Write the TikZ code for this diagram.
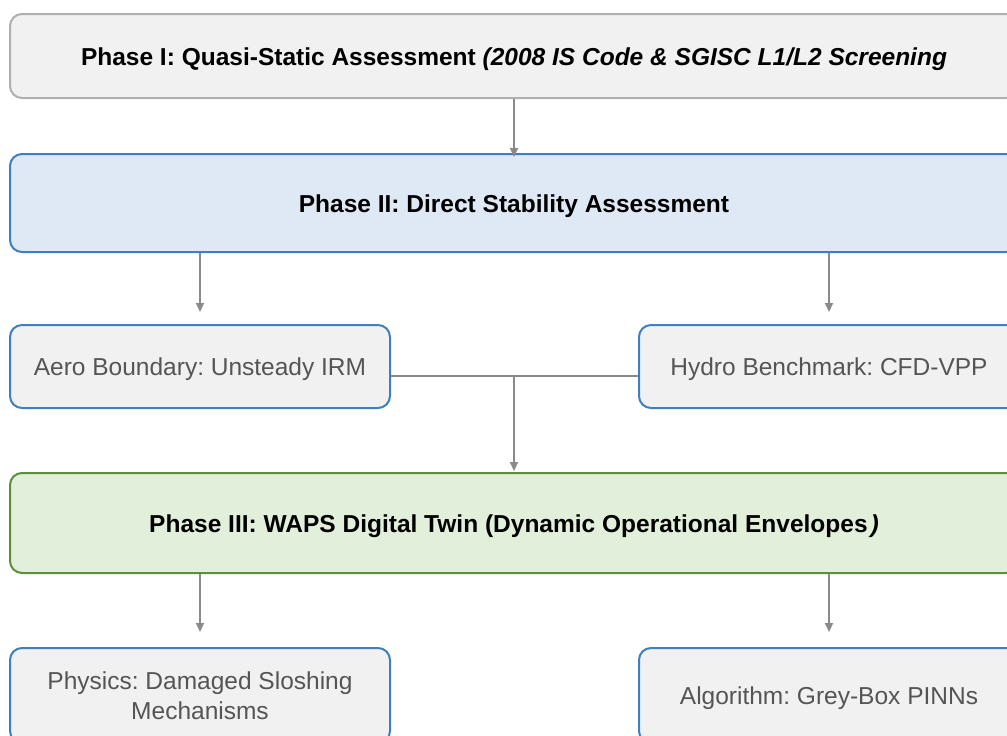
\documentclass[tikz,border=0pt]{standalone}
\usepackage{fontspec}
\setmainfont{Liberation Sans}
\usetikzlibrary{arrows.meta}
\frenchspacing
\definecolor{grayfill}{HTML}{F1F1F1}
\definecolor{grayline}{HTML}{B0B0B0}
\definecolor{bluefill}{HTML}{DFE9F5}
\definecolor{blueline}{HTML}{3D7FC1}
\definecolor{greenfill}{HTML}{E2EFDA}
\definecolor{greenline}{HTML}{5B8F3B}
\definecolor{arrowgray}{HTML}{8A8A8A}
\definecolor{textgray}{HTML}{555555}
\tikzset{
  box/.style={rectangle, rounded corners=12pt, line width=2pt, inner sep=0pt, align=center,
    font=\fontsize{24.5}{29.5}\selectfont},
  oneline/.style={text height=18pt, text depth=0pt},
  phasegray/.style={box, oneline, draw=grayline, fill=grayfill, text=black},
  phaseblue/.style={box, oneline, draw=blueline, fill=bluefill, text=black},
  phasegreen/.style={box, oneline, draw=greenline, fill=greenfill, text=black},
  sub/.style={box, draw=blueline, fill=grayfill, text=textgray},
  arr/.style={draw=arrowgray, line width=2pt, -{Triangle[length=9pt,width=8pt]}},
  link/.style={draw=arrowgray, line width=2pt},
}
\begin{document}
\begin{tikzpicture}[x=1pt,y=-1pt]
\useasboundingbox (0,0) rectangle (1007,736);
\clip (0,0) rectangle (1007,736);
\node[phasegray, minimum width=1008pt, minimum height=84pt] (p1) at (514,56)
  {\textbf{Phase I: Quasi-Static Assessment \textit{(2008 IS Code \& SGISC L1/L2 Screening}}};
\node[phaseblue, minimum width=1008pt, minimum height=98pt] (p2) at (514,203)
  {\textbf{Phase II: Direct Stability Assessment}};
\node[sub, oneline, minimum width=380pt, minimum height=83pt] (aero) at (200,366.5)
  {Aero Boundary: Unsteady IRM};
\node[sub, oneline, minimum width=380pt, minimum height=83pt] (hydro) at (829,366.5)
  {Hydro Benchmark: CFD-VPP};
\node[phasegreen, minimum width=1008pt, minimum height=100pt] (p3) at (514,523)
  {\textbf{Phase III: WAPS Digital Twin (Dynamic Operational Envelopes\hspace{3pt}\textit{)}}};
\node[sub, minimum width=380pt, minimum height=95pt] (phys) at (200,695.5)
  {Physics: Damaged Sloshing\\Mechanisms};
\node[sub, oneline, minimum width=380pt, minimum height=95pt] (algo) at (829,695.5)
  {Algorithm: Grey-Box PINNs};
\coordinate (join) at (514,375.5);
\draw[arr] (p1.south) -- ([yshift=-4pt]p2.north);
\draw[arr] (aero.north |- p2.south) -- ([yshift=12pt]aero.north);
\draw[arr] (hydro.north |- p2.south) -- ([yshift=12pt]hydro.north);
\draw[link] (aero.east |- join) -- (hydro.west |- join);
\draw[arr] (join) -- ([yshift=1pt]p3.north);
\draw[arr] (phys.north |- p3.south) -- ([yshift=15pt]phys.north);
\draw[arr] (algo.north |- p3.south) -- ([yshift=15pt]algo.north);
\end{tikzpicture}
\end{document}
